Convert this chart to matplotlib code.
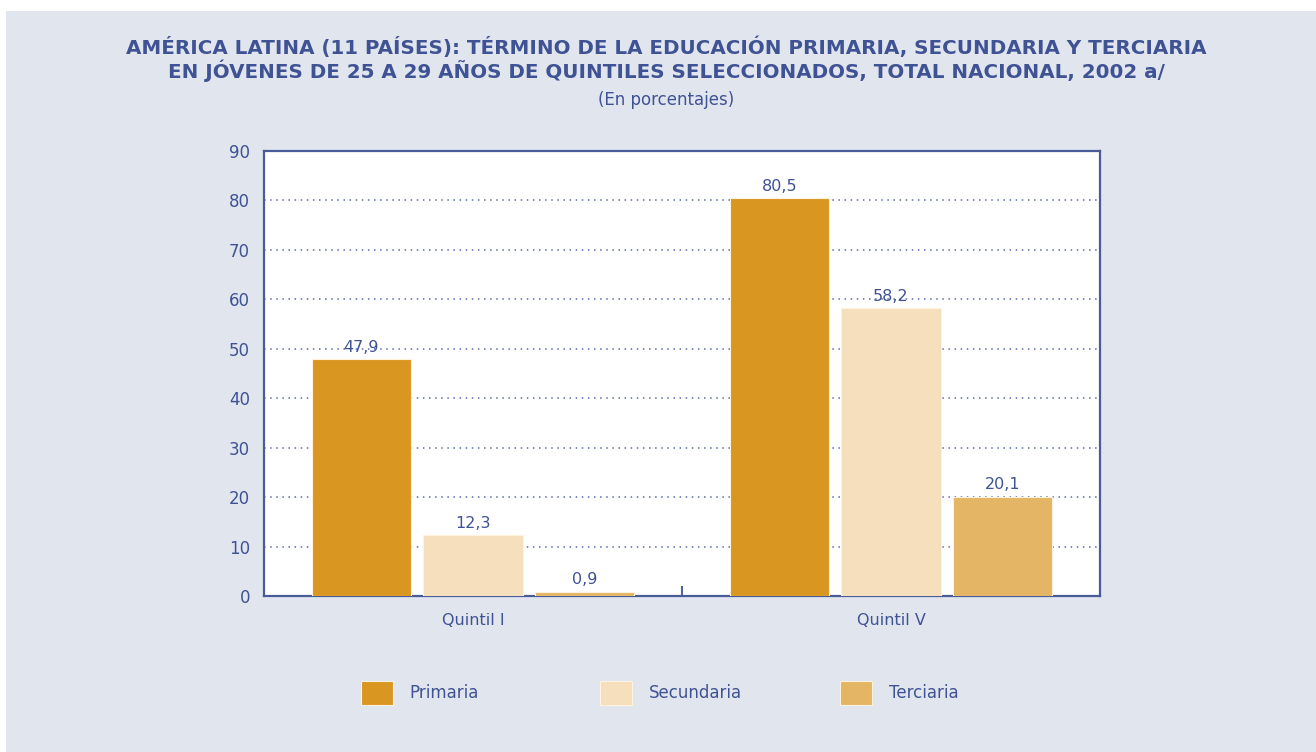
import matplotlib.pyplot as plt
import matplotlib.patches as mpatches
import numpy as np

# datos
quintiles = ['Quintil I', 'Quintil V']
niveles = ['Primaria', 'Secundaria', 'Terciaria']
primaria = [47.9, 80.5]
secundaria = [12.3, 58.2]
terciaria = [0.9, 20.1]
yticks = [0, 10, 20, 30, 40, 50, 60, 70, 80, 90]

colores = ['#D99621', '#F5DFBC', '#E3B564']
azul = '#3F5294'
fondo = '#E0E5EE'

fig = plt.figure(figsize=(13.16, 7.52), dpi=100, facecolor='white')
# panel gris (deja franja blanca arriba e izquierda)
fig.patches.append(mpatches.Rectangle((6 / 1316, 0), 1, 1 - 11 / 752,
                                      transform=fig.transFigure,
                                      facecolor=fondo, edgecolor='none', zorder=-5))

ax = fig.add_axes([264 / 1316, 156 / 752, 836 / 1316, 445 / 752])
ax.set_facecolor('white')

x = np.arange(len(quintiles))
ancho = 0.237
desp = 0.267
series = [primaria, secundaria, terciaria]
barras = []
for i, vals in enumerate(series):
    b = ax.bar(x + (i - 1) * desp, vals, ancho, color=colores[i],
               edgecolor='#FFF3DF', linewidth=0.8, label=niveles[i], zorder=3)
    barras.append(b)
    ax.bar_label(b, labels=[('%.1f' % v).replace('.', ',') for v in vals],
                 padding=3, color=azul, fontsize=11.5)

ax.set_xlim(-0.5, 1.5)
ax.set_ylim(0, 90)
ax.set_yticks(yticks)
ax.set_yticklabels([str(t) for t in yticks])
ax.set_xticks(x)
ax.set_xticklabels(quintiles)
ax.set_xticks([-0.5, 0.5, 1.5], minor=True)
ax.tick_params(axis='y', length=0, pad=10, labelsize=12, labelcolor=azul)
ax.tick_params(axis='x', which='major', length=0, pad=12, labelsize=11.5, labelcolor=azul)
ax.tick_params(axis='x', which='minor', direction='in', length=7.5, width=1.3, color=azul)

ax.yaxis.grid(True, linestyle=(0, (1, 3)), color='#5A6BA8', linewidth=1.1, zorder=1)
ax.set_axisbelow(True)
for s in ax.spines.values():
    s.set_color('#4A5C98')
    s.set_linewidth(1.6)

# titulos
cx = 666 / 1316
fig.text(cx, 1 - 47 / 752,
         'AMÉRICA LATINA (11 PAÍSES): TÉRMINO DE LA EDUCACIÓN PRIMARIA, SECUNDARIA Y TERCIARIA',
         ha='center', va='center', fontsize=14.3, fontweight='bold', color=azul)
fig.text(cx, 1 - 71 / 752,
         'EN JÓVENES DE 25 A 29 AÑOS DE QUINTILES SELECCIONADOS, TOTAL NACIONAL, 2002 a/',
         ha='center', va='center', fontsize=14.3, fontweight='bold', color=azul)
fig.text(cx, 1 - 100 / 752, '(En porcentajes)',
         ha='center', va='center', fontsize=12, color=azul)

# leyenda: una entrada por posicion
posx = [364, 603, 843]
for i in range(3):
    leg = fig.legend(handles=[barras[i]], labels=[niveles[i]],
                     loc='center left', bbox_to_anchor=(posx[i] / 1316 - 0.002, 1 - 693 / 752),
                     frameon=False, fontsize=12, handlelength=1.9, handleheight=1.75,
                     handletextpad=1.0, borderpad=0, borderaxespad=0)
    for t in leg.get_texts():
        t.set_color(azul)

fig.savefig('out.png', dpi=100, facecolor=fig.get_facecolor())
